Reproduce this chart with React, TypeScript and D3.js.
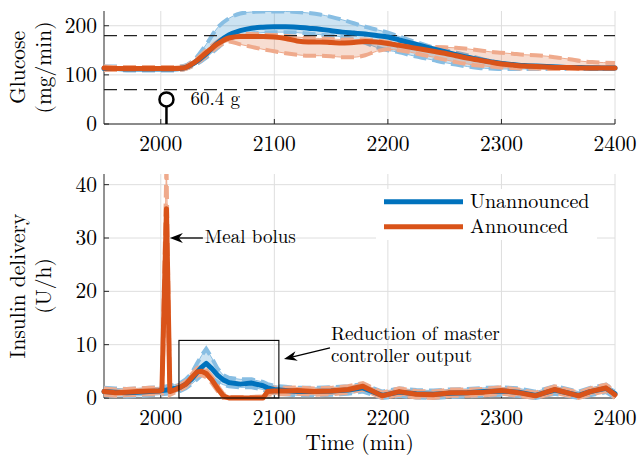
import * as d3 from 'd3'
import { useEffect, useRef } from 'react'

// glucose traces, one sample every 10 min
const gTime = [1950, 1960, 1970, 1980, 1990, 2000, 2010, 2020, 2030, 2040,
  2050, 2060, 2070, 2080, 2090, 2100, 2110, 2120, 2130, 2140,
  2150, 2160, 2170, 2180, 2190, 2200, 2210, 2220, 2230, 2240,
  2250, 2260, 2270, 2280, 2290, 2300, 2310, 2320, 2330, 2340,
  2350, 2360, 2370, 2380, 2390, 2400]
const gUnMean = [113, 113, 112, 112, 112, 112, 112, 114, 125, 143, 165, 181, 190, 195, 197, 198, 198, 197, 195, 193,
  190, 187, 185, 183, 180, 177, 171, 165, 159, 153, 147, 141, 136, 131, 127, 123, 121, 119, 118, 117, 116, 115, 115, 114, 114, 114]
const gUnHi = [117, 117, 116, 116, 116, 116, 116, 118, 132, 162, 196, 215, 225, 228, 229, 229, 229, 228, 226, 223,
  218, 212, 205, 198, 192, 186, 178, 170, 163, 156, 150, 145, 140, 134, 128, 124, 121, 119, 118, 117, 116, 116, 116, 116, 115, 115]
const gUnLo = [110, 110, 109, 109, 109, 109, 109, 111, 120, 135, 155, 172, 180, 184, 186, 187, 187, 186, 184, 182,
  180, 177, 172, 165, 156, 150, 146, 140, 135, 130, 125, 121, 117, 114, 113, 112, 112, 112, 112, 112, 112, 112, 112, 112, 112, 112]
const gAnMean = [114, 113, 113, 113, 113, 113, 113, 114, 126, 145, 163, 175, 178, 178, 178, 177, 174, 169, 167, 167,
  166, 165, 166, 168, 167, 164, 160, 156, 152, 148, 144, 139, 134, 130, 126, 122, 120, 118, 117, 116, 115, 115, 114, 114, 114, 114]
const gAnHi = [117, 116, 116, 116, 116, 116, 116, 117, 130, 150, 168, 180, 183, 183, 182, 181, 179, 177, 175, 174,
  173, 172, 172, 172, 170, 167, 163, 160, 158, 157, 156, 155, 153, 150, 147, 145, 143, 141, 140, 138, 135, 132, 128, 126, 125, 124]
const gAnLo = [110, 110, 110, 110, 110, 110, 110, 111, 121, 138, 157, 168, 162, 157, 152, 148, 144, 141, 139, 139,
  138, 136, 136, 140, 148, 152, 150, 146, 141, 136, 131, 126, 122, 119, 117, 115, 114, 113, 113, 112, 112, 112, 112, 112, 112, 112]

// insulin delivery
const iTime = [1950, 1960, 1970, 1980, 1990, 1998, 2001, 2005, 2008, 2012,
  2017, 2022, 2027, 2032, 2036, 2040, 2045, 2050, 2055, 2060,
  2070, 2080, 2090, 2094, 2100, 2110, 2120, 2135, 2150, 2165,
  2178, 2195, 2210, 2225, 2240, 2255, 2270, 2285, 2300, 2315,
  2330, 2347, 2368, 2378, 2392, 2400]
const iUnMean = [1.2, 1.1, 1.0, 1.1, 1.2, 1.3, 1.4, 1.5, 1.6, 1.8, 2.0, 2.6, 3.5, 4.8, 5.8, 6.5, 5.5, 4.3, 3.4, 2.9,
  2.6, 2.8, 2.3, 1.9, 1.6, 1.4, 1.2, 1.2, 1.3, 1.5, 1.9, 0.5, 1.1, 0.8, 0.7, 0.9, 1.0, 1.2, 1.3, 1.1, 0.5, 1.5, 0.5, 1.2, 1.8, 0.8]
const iUnHi = [1.9, 1.8, 1.7, 1.8, 1.9, 2.0, 2.1, 2.2, 2.3, 2.5, 2.8, 3.5, 4.6, 6.5, 8.0, 9.2, 7.5, 5.5, 4.3, 3.8,
  3.5, 3.5, 3.0, 2.6, 2.3, 2.1, 1.9, 1.9, 2.0, 2.2, 2.6, 1.2, 1.8, 1.5, 1.4, 1.6, 1.7, 1.9, 2.0, 1.8, 1.2, 2.2, 1.2, 1.9, 2.5, 1.5]
const iUnLo = [0.5, 0.4, 0.3, 0.4, 0.5, 0.6, 0.7, 0.8, 0.9, 1.1, 1.3, 1.8, 2.6, 3.5, 4.3, 4.8, 3.8, 3.0, 2.5, 2.2,
  2.0, 2.0, 1.6, 1.2, 0.9, 0.7, 0.5, 0.5, 0.6, 0.8, 1.2, 0, 0.4, 0.1, 0, 0.2, 0.3, 0.5, 0.6, 0.4, 0, 0.8, 0, 0.5, 1.1, 0.1]
const iAnMean = [1.2, 1.0, 1.1, 1.2, 1.3, 1.3, 1.5, 35.5, 1.2, 1.5, 2.0, 2.6, 3.8, 4.9, 5.0, 4.6, 3.4, 1.8, 0.4, 0,
  0, 0, 0, 1.2, 1.3, 1.3, 1.4, 1.2, 1.3, 1.6, 2.2, 0.4, 1.2, 0.7, 0.6, 1.0, 1.0, 1.1, 1.4, 1.0, 0.4, 1.6, 0.4, 1.2, 1.9, 0.6]
const iAnHi = [1.8, 1.6, 1.7, 1.8, 1.9, 1.9, 2.2, 44, 1.8, 2.0, 2.5, 3.1, 4.4, 5.6, 5.8, 5.3, 4.0, 2.3, 0.8, 0.2,
  0.2, 0.2, 0.3, 1.8, 1.9, 1.9, 2.0, 1.8, 1.9, 2.2, 2.8, 1.0, 1.8, 1.3, 1.2, 1.6, 1.6, 1.7, 2.0, 1.6, 1.0, 2.2, 1.0, 1.8, 2.5, 1.2]
const iAnLo = [0.6, 0.4, 0.5, 0.6, 0.7, 0.7, 0.8, 28, 0.6, 1.0, 1.5, 2.1, 3.2, 4.2, 4.3, 3.9, 2.8, 1.3, 0, 0,
  0, 0, 0, 0.6, 0.7, 0.7, 0.8, 0.6, 0.7, 1.0, 1.6, 0, 0.6, 0.1, 0, 0.4, 0.4, 0.5, 0.8, 0.4, 0, 1.0, 0, 0.6, 1.3, 0]

const xTicks = [2000, 2100, 2200, 2300, 2400]
const gTicks = [0, 100, 200]
const iTicks = [0, 10, 20, 30, 40]
const gLimits = [70, 180]
const mealTime = 2005
const mealMark = 50
const mealLabel = '60.4 g'
const seriesNames = ['Unannounced', 'Announced']
const boxSpan = [2016, 2104]
const boxTop = 10.8

const BLUE = '#0072BD', ORANGE = '#D95319'
const BLUE_L = '#88BEE3', ORANGE_L = '#EFAA8C'
const SERIF = "'Latin Modern Roman'"

function txt(sel: any, size: number) {
  return sel.style('font-family', SERIF).style('font-size', size + 'px').attr('fill', '#000')
}

function axesPanel(svg: any, x: any, y: any, yTicks: number[], id: string) {
  const [yb, yt] = y.range()
  const [xl, xr] = x.range()
  const g = svg.append('g')
  // grid
  g.selectAll('.gx').data(xTicks).join('line')
    .attr('x1', (d: number) => x(d)).attr('x2', (d: number) => x(d))
    .attr('y1', yb).attr('y2', yt).attr('stroke', '#dedede').attr('stroke-width', 1)
  g.selectAll('.gy').data(yTicks).join('line')
    .attr('x1', xl).attr('x2', xr)
    .attr('y1', (d: number) => y(d)).attr('y2', (d: number) => y(d))
    .attr('stroke', '#dedede').attr('stroke-width', 1)
  // spines
  g.append('line').attr('x1', xl).attr('x2', xl).attr('y1', yt).attr('y2', yb).attr('stroke', '#262626')
  g.append('line').attr('x1', xl).attr('x2', xr).attr('y1', yb).attr('y2', yb).attr('stroke', '#262626')
  // ticks (inward)
  g.selectAll('.tx').data(xTicks).join('line')
    .attr('x1', (d: number) => x(d)).attr('x2', (d: number) => x(d))
    .attr('y1', yb).attr('y2', yb - 5).attr('stroke', '#262626')
  g.selectAll('.ty').data(yTicks).join('line')
    .attr('x1', xl).attr('x2', xl + 5)
    .attr('y1', (d: number) => y(d)).attr('y2', (d: number) => y(d)).attr('stroke', '#262626')
  // labels
  txt(g.selectAll('.lx').data(xTicks).join('text'), 21.5)
    .attr('x', (d: number) => x(d)).attr('y', yb + 27)
    .attr('text-anchor', 'middle')
    .text((d: number) => d)
  txt(g.selectAll('.ly').data(yTicks).join('text'), 21.5)
    .attr('x', xl - 7).attr('y', (d: number) => y(d) + 7)
    .attr('text-anchor', 'end')
    .text((d: number) => d)

  svg.append('clipPath').attr('id', id).append('rect')
    .attr('x', xl - 3).attr('y', yt).attr('width', xr - xl + 6).attr('height', yb - yt + 5)
  return svg.append('g').attr('clip-path', `url(#${id})`)
}

function band(g: any, x: any, y: any, t: number[], lo: number[], hi: number[], fill: string, edge: string, curve: any) {
  const idx = t.map((_, i) => i)
  g.append('path').datum(idx)
    .attr('d', d3.area<number>().x(i => x(t[i])).y0(i => y(lo[i])).y1(i => y(hi[i])).curve(curve))
    .attr('fill', fill).attr('fill-opacity', 0.2).attr('stroke', 'none')
  for (const arr of [lo, hi]) {
    const ln = d3.line<number>().x(i => x(t[i])).y(i => y(arr[i])).curve(curve)
    g.append('path').datum(idx).attr('d', ln).attr('fill', 'none').attr('stroke', edge).attr('stroke-width', 1)
    g.append('path').datum(idx).attr('d', ln).attr('fill', 'none').attr('stroke', edge)
      .attr('stroke-width', 4).attr('stroke-dasharray', '13 6')
  }
}

function meanLine(g: any, x: any, y: any, t: number[], v: number[], color: string, curve: any) {
  g.append('path').datum(t.map((_, i) => i))
    .attr('d', d3.line<number>().x(i => x(t[i])).y(i => y(v[i])).curve(curve))
    .attr('fill', 'none').attr('stroke', color).attr('stroke-width', 5)
    .attr('stroke-linejoin', 'round').attr('stroke-linecap', 'round')
}

function arrow(svg: any, x1: number, y1: number, x2: number, y2: number) {
  const a = Math.atan2(y2 - y1, x2 - x1)
  const L = 13, W = 5, N = 4
  const bx = x2 - L * Math.cos(a), by = y2 - L * Math.sin(a)
  const nx = x2 - (L - N) * Math.cos(a), ny = y2 - (L - N) * Math.sin(a)
  const px = -Math.sin(a) * W, py = Math.cos(a) * W
  svg.append('line').attr('x1', x1).attr('y1', y1).attr('x2', nx).attr('y2', ny)
    .attr('stroke', '#000').attr('stroke-width', 1.3)
  svg.append('path')
    .attr('d', `M${x2},${y2}L${bx + px},${by + py}L${nx},${ny}L${bx - px},${by - py}Z`)
    .attr('fill', '#000')
}

function makeChart(node: SVGSVGElement) {
  const svg = d3.select(node)
  svg.selectAll('*').remove()

  const x = d3.scaleLinear().domain([1950, 2400]).range([104, 615])
  const yG = d3.scaleLinear().domain([0, 230]).range([124, 11])
  const yI = d3.scaleLinear().domain([0, 42]).range([398, 174])
  const smooth = d3.curveMonotoneX
  const lin = d3.curveLinear

  // ---- glucose panel
  const top = axesPanel(svg, x, yG, gTicks, 'clipG')
  band(top, x, yG, gTime, gUnLo, gUnHi, BLUE, BLUE_L, smooth)
  band(top, x, yG, gTime, gAnLo, gAnHi, ORANGE, ORANGE_L, smooth)
  top.selectAll('.lim').data(gLimits).join('line')
    .attr('x1', x(1950)).attr('x2', x(2400))
    .attr('y1', (d: number) => yG(d)).attr('y2', (d: number) => yG(d))
    .attr('stroke', '#222').attr('stroke-width', 1.2).attr('stroke-dasharray', '13 7')
  meanLine(top, x, yG, gTime, gUnMean, BLUE, smooth)
  meanLine(top, x, yG, gTime, gAnMean, ORANGE, smooth)
  // meal stem
  top.append('line').attr('x1', x(mealTime)).attr('x2', x(mealTime))
    .attr('y1', yG(0)).attr('y2', yG(mealMark) + 7).attr('stroke', '#000').attr('stroke-width', 2.5)
  top.append('circle').attr('cx', x(mealTime)).attr('cy', yG(mealMark)).attr('r', 7)
    .attr('fill', 'none').attr('stroke', '#000').attr('stroke-width', 2.5)
  txt(svg.append('text'), 19).attr('x', x(mealTime) + 24).attr('y', yG(mealMark) + 6).text(mealLabel)

  // ---- insulin panel
  const bot = axesPanel(svg, x, yI, iTicks, 'clipI')
  band(bot, x, yI, iTime, iUnLo, iUnHi, BLUE, BLUE_L, lin)
  band(bot, x, yI, iTime, iAnLo, iAnHi, ORANGE, ORANGE_L, lin)
  meanLine(bot, x, yI, iTime, iUnMean, BLUE, lin)
  meanLine(bot, x, yI, iTime, iAnMean, ORANGE, lin)

  // highlight box
  svg.append('rect').attr('x', x(boxSpan[0])).attr('y', yI(boxTop))
    .attr('width', x(boxSpan[1]) - x(boxSpan[0])).attr('height', yI(0) - yI(boxTop))
    .attr('fill', 'none').attr('stroke', '#000').attr('stroke-width', 1.1)

  // annotations
  arrow(svg, x(2008) + 33, yI(30), x(2008), yI(30))
  txt(svg.append('text'), 19).attr('x', x(2008) + 35).attr('y', yI(30) + 5).text('Meal bolus')
  arrow(svg, x(2149), yI(9.4), x(2108.5), yI(7.3))
  txt(svg.append('text'), 19).attr('x', 331).attr('y', 340).text('Reduction of master')
  txt(svg.append('text'), 19).attr('x', 331).attr('y', 362).text('controller output')

  // legend
  const lg = svg.append('g')
  lg.append('rect').attr('x', 376).attr('y', 189).attr('width', 221).attr('height', 51).attr('fill', '#fff')
  seriesNames.forEach((name, i) => {
    const yy = 201.7 + i * 25
    lg.append('line').attr('x1', 384).attr('x2', 463).attr('y1', yy).attr('y2', yy)
      .attr('stroke', i === 0 ? BLUE : ORANGE).attr('stroke-width', 5)
    txt(lg.append('text'), 20).attr('x', 470).attr('y', yy + 6.5).text(name)
  })

  // axis titles
  const ylab = (lines: string[], cy: number) => {
    lines.forEach((s, i) => {
      txt(svg.append('text'), 21.5).attr('transform', `translate(${25 + i * 26},${cy}) rotate(-90)`)
        .attr('text-anchor', 'middle').text(s)
    })
  }
  ylab(['Glucose', '(mg/min)'], (yG.range()[0] + yG.range()[1]) / 2)
  ylab(['Insulin delivery', '(U/h)'], (yI.range()[0] + yI.range()[1]) / 2)
  txt(svg.append('text'), 21.5).attr('x', (x.range()[0] + x.range()[1]) / 2).attr('y', 450)
    .attr('text-anchor', 'middle').text('Time (min)')
}

export default function App() {
  const ref = useRef<SVGSVGElement>(null)
  useEffect(() => {
    if (ref.current) makeChart(ref.current)
  })
  return (
    <svg ref={ref} width={639} height={458}
      style={{ position: 'absolute', left: 0, top: 0, background: '#fff', display: 'block' }} />
  )
}
